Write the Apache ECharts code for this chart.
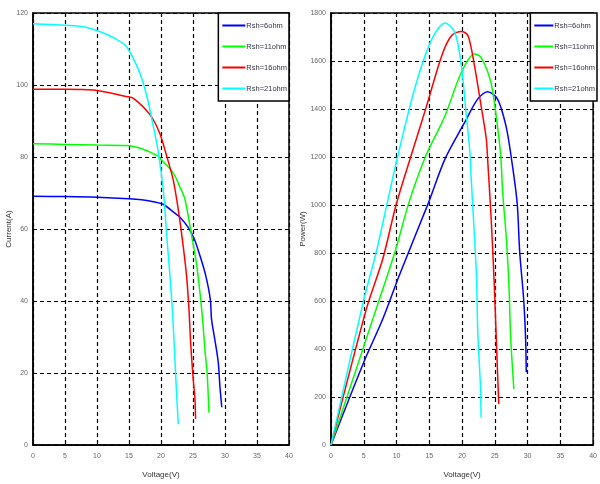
<!DOCTYPE html>
<html>
<head>
<meta charset="utf-8">
<script src="https://cdn.jsdelivr.net/npm/echarts@6/dist/echarts.min.js"></script>
<style>
  html, body { margin: 0; padding: 0; background: #fff; }
  #chart { width: 600px; height: 484px; }
</style>
</head>
<body>
<div id="chart"></div>
<script>
  // legend names, same order in both panels
  var names = ['Rsh=6ohm', 'Rsh=11ohm', 'Rsh=16ohm', 'Rsh=21ohm']
  var colors = ['#0000ff', '#00ff00', '#ff0000', '#00ffff']

  //------------------- I-V data (left) -------------------//
  var ivV6 = [0, 5, 10, 15, 17, 19, 20.4, 22, 23, 24.3, 25.2, 26.1, 27, 27.7, 27.9, 28.4, 28.95, 29.2, 29.5]
  var ivI6 = [69.1, 69, 68.8, 68.4, 68.1, 67.5, 66.8, 64.6, 63.2, 60.3, 57.2, 52.5, 47, 40.5, 34.9, 29.4, 22.9, 16.4, 10.5]

  var ivV11 = [0, 5, 10, 14.6, 17, 19.6, 20, 21.9, 23, 23.75, 24.8, 25.6, 26.4, 26.9, 27.2, 27.5]
  var ivI11 = [83.7, 83.5, 83.3, 83.2, 82.3, 80.2, 79.3, 75.6, 71.5, 68.2, 58, 49.7, 36.8, 25.7, 20.1, 9]

  var ivV16 = [0, 5, 9.4, 14.6, 15.7, 18.3, 19.8, 20.9, 21.9, 22.7, 23.4, 24, 24.4, 24.6, 24.95, 25.3, 25.4]
  var ivI16 = [98.8, 98.8, 98.6, 96.8, 96.3, 91.7, 86.6, 80.2, 73.7, 65.4, 56.2, 46.9, 36.8, 29.4, 20.1, 12.7, 7.2]

  var ivV21 = [0, 5, 7.9, 10.5, 12.5, 14.6, 16.7, 17.8, 18.8, 19.6, 20.4, 20.9, 21.4, 21.8, 22.2, 22.45, 22.7]
  var ivI21 = [117, 116.6, 116.2, 114.8, 113.2, 110.7, 103.3, 96.8, 88.5, 81.1, 70, 58, 46.9, 36.8, 22.9, 13.7, 5.8]

  //------------------- P-V data (right) -------------------//
  var pvV6 = [0, 5, 7.9, 10.4, 14.9, 17.4, 20.4, 22.4, 23.9, 25.4, 26.7, 27.5, 28.4, 28.8, 29.4, 29.7, 29.8]
  var pvP6 = [0, 345, 525, 705, 1011, 1192, 1344, 1442, 1472, 1442, 1330, 1200, 1011, 803, 608, 442, 303]

  var pvV11 = [0, 7.4, 9.9, 11.9, 14.4, 17.4, 19.9, 21.9, 22.9, 24.4, 25.4, 25.9, 26.2, 26.8, 27.2, 27.4, 27.8, 27.9]
  var pvP11 = [0, 608, 817, 1011, 1200, 1372, 1553, 1629, 1615, 1511, 1330, 1205, 1053, 845, 636, 455, 275, 233]

  var pvV16 = [0, 5.4, 7.9, 9.9, 12.1, 14.6, 16.9, 18.4, 19.9, 20.9, 21.9, 22.9, 23.7, 23.9, 24.3, 24.7, 25, 25.3, 25.6]
  var pvP16 = [0, 567, 775, 997, 1195, 1414, 1622, 1706, 1723, 1706, 1580, 1414, 1275, 1192, 1011, 803, 608, 386, 171]

  var pvV21 = [0, 4.9, 6.9, 8.6, 10.2, 12.9, 15.4, 17.4, 18.9, 19.9, 20.6, 21.2, 21.4, 21.8, 22.2, 22.4, 22.8, 22.9]
  var pvP21 = [0, 594, 803, 1011, 1205, 1497, 1692, 1758, 1719, 1580, 1386, 1220, 1108, 914, 705, 470, 247, 115]

  function zip(xs, ys) {
    return xs.map((x, i) => [x, ys[i]])
  }

  var ivSets = [[ivV6, ivI6], [ivV11, ivI11], [ivV16, ivI16], [ivV21, ivI21]]
  var pvSets = [[pvV6, pvP6], [pvV11, pvP11], [pvV16, pvP16], [pvV21, pvP21]]

  var labelStyle = { fontSize: 7, color: '#666', fontFamily: 'Liberation Sans', formatter: v => String(v) }
  var nameStyle = { fontSize: 8, color: '#333', fontFamily: 'Liberation Sans' }
  var dashed = { show: true, lineStyle: { color: '#000', type: [4, 3], width: 1.2 } }
  var blackLine = { show: true, lineStyle: { color: '#000', width: 1.5 } }
  var tick = { show: true, inside: true, length: 3, lineStyle: { color: '#000' } }

  function xAxis(gridIndex) {
    return {
      type: 'value', gridIndex, min: 0, max: 40, interval: 5,
      name: 'Voltage(V)', nameLocation: 'middle', nameGap: 26, nameTextStyle: nameStyle,
      axisLine: blackLine, axisTick: tick, splitLine: dashed,
      axisLabel: Object.assign({ margin: 8 }, labelStyle),
    }
  }

  function yAxis(gridIndex, max, interval, name) {
    return {
      type: 'value', gridIndex, min: 0, max, interval,
      name, nameLocation: 'middle', nameGap: 13, nameTextStyle: nameStyle,
      axisLine: blackLine, axisTick: tick, splitLine: dashed,
      axisLabel: Object.assign({ margin: 5 }, labelStyle),
    }
  }

  function legend(right, itemWidth) {
    return {
      data: names, orient: 'vertical', top: 13, right,
      icon: 'rect', itemWidth, itemHeight: 2, itemGap: 12, padding: [8, 2, 8, 4],
      borderColor: '#000', borderWidth: 1.5, backgroundColor: '#fff', borderRadius: 0,
      textStyle: { fontSize: 7.5, lineHeight: 9, height: 9, color: '#334', fontFamily: 'Liberation Sans', padding: [0, 0, 0, -4] },
    }
  }

  var series = []
  ivSets.forEach(([xs, ys], i) => {
    series.push({
      name: names[i], type: 'line', xAxisIndex: 0, yAxisIndex: 0,
      data: zip(xs, ys), symbol: 'none', smooth: 0.3,
      lineStyle: { color: colors[i], width: 1.5 }, itemStyle: { color: colors[i] },
    })
  })
  pvSets.forEach(([xs, ys], i) => {
    series.push({
      name: names[i], type: 'line', xAxisIndex: 1, yAxisIndex: 1,
      data: zip(xs, ys), symbol: 'none', smooth: 0.3,
      lineStyle: { color: colors[i], width: 1.5 }, itemStyle: { color: colors[i] },
    })
  })

  var chart = echarts.init(document.getElementById('chart'), null, { renderer: 'canvas' })
  chart.setOption({
    animation: false,
    backgroundColor: '#fff',
    grid: [
      { left: 33, right: 311, top: 13, bottom: 38, show: true, borderColor: '#000', borderWidth: 1.5 },
      { left: 331, right: 3, top: 13, bottom: 38, show: true, borderColor: '#000', borderWidth: 1.5 },
    ],
    xAxis: [xAxis(0), xAxis(1)],
    yAxis: [yAxis(0, 120, 20, 'Current(A)'), yAxis(1, 1800, 200, 'Power(W)')],
    legend: [legend(311, 23), legend(3, 19)],
    series,
  })
</script>
</body>
</html>
